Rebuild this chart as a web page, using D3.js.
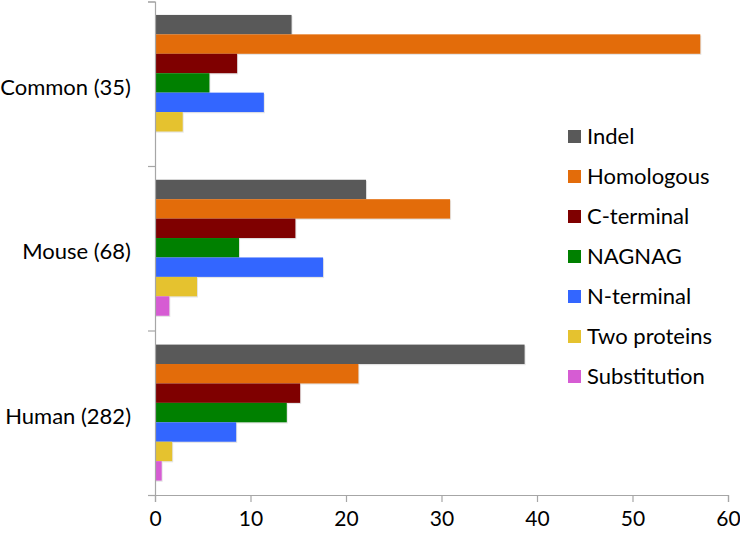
<!DOCTYPE html>
<html>
<head>
<meta charset="utf-8">
<script src="https://cdn.jsdelivr.net/npm/d3@7"></script>
<style>
  html, body { margin: 0; padding: 0; background: #fff; }
  svg { display: block; }
  text { font-family: Lato, "Open Sans", sans-serif; fill: #000; }
</style>
</head>
<body>
<svg id="chart" width="740" height="536"></svg>
<script>
// ---- data (percent of events per species group) ----
const categories = ["Common (35)", "Mouse (68)", "Human (282)"];
const seriesNames = ["Indel", "Homologous", "C-terminal", "NAGNAG", "N-terminal", "Two proteins", "Substitution"];
const seriesColors = ["#595959", "#E36C0A", "#7F0000", "#008000", "#3366FF", "#E5C22F", "#D65CD3"];
const indel        = [14.3, 22.1, 38.7];
const homologous   = [57.1, 30.9, 21.3];
const cTerminal    = [8.6, 14.7, 15.2];
const nagnag       = [5.7, 8.8, 13.8];
const nTerminal    = [11.4, 17.6, 8.5];
const twoProteins  = [2.9, 4.4, 1.8];
const substitution = [0, 1.5, 0.7];
const xTicks = [0, 10, 20, 30, 40, 50, 60];

const seriesValues = [indel, homologous, cTerminal, nagnag, nTerminal, twoProteins, substitution];

const svg = d3.select("#chart");

const x = d3.scaleLinear().domain([0, 60]).range([155, 728]);
const y0 = d3.scaleBand().domain(categories).range([0.5, 495]).paddingInner(0.175).paddingOuter(0.0875);
const y1 = d3.scaleBand().domain(seriesNames).range([0, y0.bandwidth()]);
const color = d3.scaleOrdinal().domain(seriesNames).range(seriesColors);

// bars
const rows = [];
categories.forEach((c, ci) => {
  seriesNames.forEach((s, si) => {
    rows.push({ cat: c, series: s, value: seriesValues[si][ci] });
  });
});

const barG = svg.append("g");
// subtle shadow
barG.selectAll("rect.shadow")
  .data(rows.filter(d => d.value > 0))
  .join("rect")
  .attr("class", "shadow")
  .attr("x", x(0) + 1)
  .attr("y", d => y0(d.cat) + y1(d.series) + 1.2)
  .attr("width", d => x(d.value) - x(0))
  .attr("height", y1.bandwidth())
  .attr("fill", "#000")
  .attr("opacity", 0.1);

barG.selectAll("rect.bar")
  .data(rows)
  .join("rect")
  .attr("class", "bar")
  .attr("x", x(0))
  .attr("y", d => y0(d.cat) + y1(d.series))
  .attr("width", d => x(d.value) - x(0))
  .attr("height", y1.bandwidth())
  .attr("fill", d => color(d.series));

// x axis
const xAxis = svg.append("g")
  .attr("transform", "translate(0,495)")
  .call(d3.axisBottom(x).tickValues(xTicks).tickSize(7).tickPadding(9).tickFormat(d3.format("d")));
xAxis.select(".domain").attr("stroke", "#A6A6A6").attr("stroke-width", 1.2);
xAxis.selectAll(".tick line").attr("stroke", "#A6A6A6").attr("stroke-width", 1.2);
xAxis.selectAll(".tick text").attr("font-size", 21).attr("font-family", "Lato, sans-serif").attr("fill", "#000");

// y axis: boundary ticks between groups
const yBounds = d3.scaleLinear().domain([0, categories.length]).range([1.5, 495]);
const yAxis = svg.append("g")
  .attr("transform", "translate(155,0)")
  .call(d3.axisLeft(yBounds).tickValues(d3.range(categories.length + 1)).tickSize(7).tickFormat(""));
yAxis.select(".domain").attr("stroke", "#A6A6A6").attr("stroke-width", 1.2);
yAxis.selectAll(".tick line").attr("stroke", "#A6A6A6").attr("stroke-width", 1.2);

// category labels
svg.append("g").selectAll("text")
  .data(categories)
  .join("text")
  .attr("x", 131)
  .attr("y", d => y0(d) + y0.bandwidth() / 2 + 4)
  .attr("dy", "0.35em")
  .attr("text-anchor", "end")
  .attr("font-size", 22)
  .text(d => d);

// legend
const legend = svg.append("g").attr("transform", "translate(568,0)");
const li = legend.selectAll("g")
  .data(seriesNames)
  .join("g")
  .attr("transform", (d, i) => `translate(0,${136.5 + i * 40})`);
li.append("rect")
  .attr("x", 0).attr("y", -6.5)
  .attr("width", 13).attr("height", 13)
  .attr("fill", d => color(d));
li.append("text")
  .attr("x", 19).attr("y", 0)
  .attr("dy", "0.35em")
  .attr("font-size", 22)
  .text(d => d);
</script>
</body>
</html>
